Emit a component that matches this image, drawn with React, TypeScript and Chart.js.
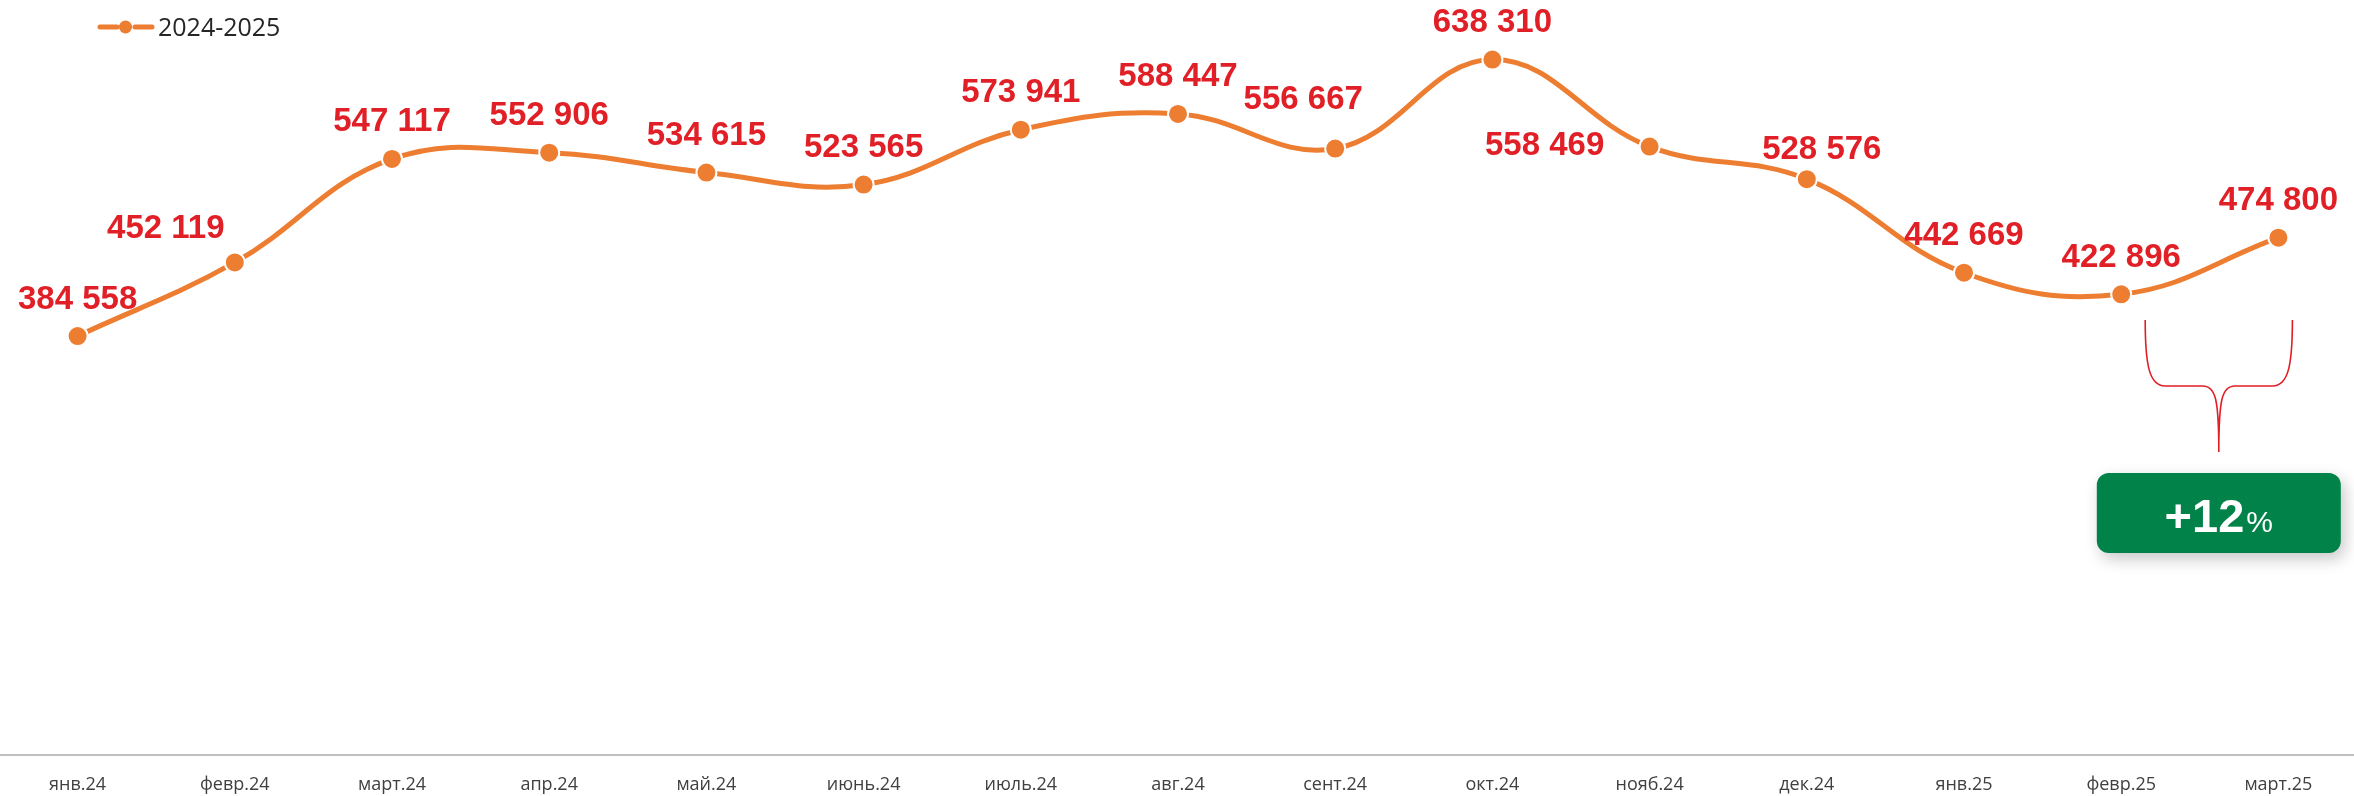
import React, { useEffect, useRef } from "react";
import { Chart, registerables } from "chart.js";

Chart.register(...registerables);

const categories = [
  "янв.24", "февр.24", "март.24", "апр.24", "май.24", "июнь.24", "июль.24",
  "авг.24", "сент.24", "окт.24", "нояб.24", "дек.24", "янв.25", "февр.25", "март.25",
];
const values = [
  384558, 452119, 547117, 552906, 534615, 523565, 573941,
  588447, 556667, 638310, 558469, 528576, 442669, 422896, 474800,
];
const seriesName = "2024-2025";
const changeText = "+12";
const changeUnit = "%";

// label nudges (pixels) relative to each point
const labelDx = [0, -69, 0, 0, 0, 0, 0, 0, -32, 0, -105, 15, 0, 0, 0];
const labelDy = [-39, -36, -39, -39, -39, -39, -39, -39, -51, -39, -3, -32, -39, -39, -39];

const ORANGE = "#ED7D31";
const RED = "#E01F26";
const GREEN = "#008249";

const fmt = (v: number) => String(v).replace(/\B(?=(\d{3})+(?!\d))/g, " ");

const overlayPlugin = {
  id: "overlay",
  afterDatasetsDraw(chart: any) {
    const ctx = chart.ctx as CanvasRenderingContext2D;
    const meta = chart.getDatasetMeta(0);
    ctx.save();
    // data labels
    ctx.font = "bold 33px 'Liberation Sans', Arial, sans-serif";
    ctx.fillStyle = RED;
    ctx.textAlign = "center";
    ctx.textBaseline = "alphabetic";
    meta.data.forEach((pt: any, i: number) => {
      ctx.fillText(fmt(values[i]), pt.x + labelDx[i], pt.y + labelDy[i] + 11.5);
    });

    // brace between last two points
    const p13 = meta.data[13];
    const p14 = meta.data[14];
    const L = p13.x + 24;
    const R = p14.x + 14;
    const C = (L + R) / 2;
    const top = 320;
    const mid = 386;
    const tip = 452;
    ctx.strokeStyle = RED;
    ctx.lineWidth = 1.6;
    ctx.beginPath();
    ctx.moveTo(L, top);
    ctx.bezierCurveTo(L, 365, L + 4, mid, L + 20, mid);
    ctx.lineTo(C - 16, mid);
    ctx.bezierCurveTo(C - 3, mid, C, 400, C, tip);
    ctx.moveTo(R, top);
    ctx.bezierCurveTo(R, 365, R - 4, mid, R - 20, mid);
    ctx.lineTo(C + 16, mid);
    ctx.bezierCurveTo(C + 3, mid, C, 400, C, tip);
    ctx.stroke();

    // green badge
    const bw = 244;
    const bh = 80;
    const bx = C - bw / 2;
    const by = 473;
    ctx.save();
    ctx.shadowColor = "rgba(0,0,0,0.22)";
    ctx.shadowBlur = 16;
    ctx.shadowOffsetX = 4;
    ctx.shadowOffsetY = 6;
    ctx.fillStyle = GREEN;
    ctx.beginPath();
    (ctx as any).roundRect(bx, by, bw, bh, 12);
    ctx.fill();
    ctx.restore();

    ctx.fillStyle = "#FFFFFF";
    ctx.textBaseline = "alphabetic";
    ctx.textAlign = "left";
    const f1 = "bold 47px 'Liberation Sans', Arial, sans-serif";
    const f2 = "30px 'Liberation Sans', Arial, sans-serif";
    ctx.font = f1;
    const w1 = ctx.measureText(changeText).width;
    ctx.font = f2;
    const w2 = ctx.measureText(changeUnit).width;
    const sx = C - (w1 + w2 + 2) / 2;
    ctx.font = f1;
    ctx.fillText(changeText, sx, 532);
    ctx.font = f2;
    ctx.fillText(changeUnit, sx + w1 + 2, 532);

    // legend
    ctx.strokeStyle = ORANGE;
    ctx.lineWidth = 5;
    ctx.lineCap = "round";
    ctx.beginPath();
    ctx.moveTo(101, 27);
    ctx.lineTo(118, 27);
    ctx.moveTo(136, 27);
    ctx.lineTo(153, 27);
    ctx.stroke();
    ctx.fillStyle = ORANGE;
    ctx.beginPath();
    ctx.arc(126.5, 27, 6.5, 0, Math.PI * 2);
    ctx.fill();
    ctx.fillStyle = "#262626";
    ctx.font = "25px 'Open Sans', sans-serif";
    ctx.textAlign = "left";
    ctx.fillText(seriesName, 159, 35.5);
    ctx.restore();
  },
};

export default function App() {
  const ref = useRef<HTMLCanvasElement | null>(null);
  useEffect(() => {
    if (!ref.current) return;
    const chart = new Chart(ref.current, {
      type: "line",
      data: {
        labels: categories,
        datasets: [
          {
            label: seriesName,
            data: values,
            borderColor: ORANGE,
            backgroundColor: ORANGE,
            borderWidth: 5,
            tension: 0.4,
            pointRadius: 10,
            pointHoverRadius: 10,
            pointBackgroundColor: ORANGE,
            pointBorderColor: "#FFFFFF",
            pointBorderWidth: 2,
            clip: false as any,
          },
        ],
      },
      options: {
        animation: false,
        responsive: false,
        maintainAspectRatio: false,
        layout: { padding: 0, autoPadding: false } as any,
        plugins: {
          legend: { display: false },
          tooltip: { enabled: false },
        },
        scales: {
          x: {
            offset: true,
            grid: { display: false, drawTicks: false },
            border: { display: true, color: "#BFBFBF", width: 2 },
            ticks: {
              color: "#404040",
              font: { family: "'Open Sans', sans-serif", size: 18 },
              padding: 19,
              maxRotation: 0,
              autoSkip: false,
            },
            afterFit(scale: any) {
              scale.height = 41;
            },
          },
          y: {
            display: false,
            min: 0,
            max: 693000,
          },
        },
      },
      plugins: [overlayPlugin],
    });
    return () => chart.destroy();
  }, []);
  return (
    <div style={{ position: "fixed", left: -1, top: 0, width: 2358, height: 796, background: "#fff" }}>
      <canvas ref={ref} width={2358} height={796} style={{ width: 2358, height: 796, display: "block" }} />
    </div>
  );
}
